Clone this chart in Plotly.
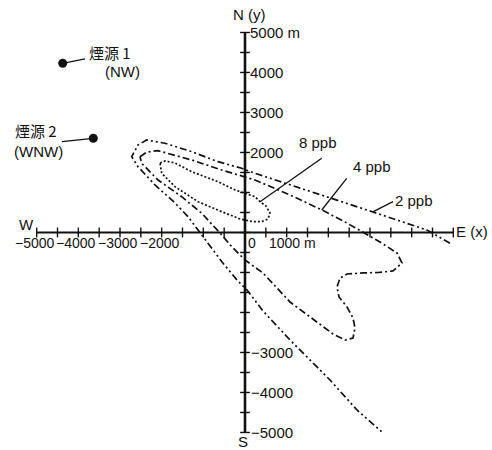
import plotly.graph_objects as go

# Concentration contours (metres, x = east, y = north)
ppb2_x = [4920, 4368, 3072, 1320, 240, -80, -648, -1279, -1920, -2359, -2568, -2719,
          -2568, -2160, -1680, -1368, -1128, -840, -552, -192, 48, 432, 1080, 1728,
          2040, 2688, 3288]
ppb2_y = [-270, 60, 512, 1100, 1480, 1605, 1770, 2020, 2230, 2312, 2188, 1895,
          1645, 1188, 738, 395, 62, -312, -738, -1188, -1438, -1962, -2688, -3362,
          -3688, -4438, -4988]

ppb4_x = [-2520, -2352, -2088, -1279, -559, 0, 240, 1080, 1848, 2400, 2832, 3240,
          3648, 3768, 3552, 3192, 2832, 2448, 2280, 2208, 2256, 2448, 2592, 2640,
          2592, 2400, 2112, 1728, 1080, 432, 0, -312, -600, -1039, -1519, -2088,
          -2479, -2520]
ppb4_y = [1895, 2012, 2045, 1812, 1562, 1388, 1312, 938, 562, 262, 12, -238,
          -512, -762, -962, -1000, -1012, -1038, -1138, -1362, -1612, -1862, -2138,
          -2388, -2638, -2688, -2538, -2238, -1738, -1012, -688, -362, -12, 480,
          895, 1312, 1730, 1895]

ppb8_x = [-2040, -1920, -1680, -1279, -648, -240, 240, 360, 504, 600, 552, 408,
          192, -120, -559, -1128, -1680, -1999, -2040]
ppb8_y = [1738, 1788, 1738, 1520, 1270, 1062, 895, 770, 662, 488, 338, 275,
          270, 338, 520, 770, 1145, 1480, 1738]

# Emission sources
source_names = ["煙源 1", "煙源 2"]
source_dirs = ["(NW)", "(WNW)"]
source_x = [-4375, -3641]
source_y = [4230, 2355]

# Axis ticks
tick_step = 500
axis_max = 5000
x_tick_labels = {-5000: "−5000", -4000: "−4000", -3000: "−3000", -2000: "−2000"}
y_tick_labels_pos = {5000: "5000 m", 4000: "4000", 3000: "3000", 2000: "2000"}
y_tick_labels_neg = {-3000: "−3000", -4000: "−4000", -5000: "−5000"}

ink = "#111111"
latin = "Liberation Sans, Arial, sans-serif"
cjk = "Noto Sans CJK JP, sans-serif"

fig = go.Figure()

# Axes drawn through the origin
fig.add_trace(go.Scatter(x=[-axis_max, axis_max], y=[0, 0], mode="lines",
                         line=dict(color=ink, width=2), hoverinfo="skip"))
fig.add_trace(go.Scatter(x=[0, 0], y=[-axis_max, axis_max], mode="lines",
                         line=dict(color=ink, width=2.6), hoverinfo="skip"))
ticks = list(range(-axis_max, axis_max + 1, tick_step))
fig.add_trace(go.Scatter(x=ticks, y=[0] * len(ticks), mode="markers",
                         marker=dict(symbol="line-ns", size=7,
                                     line=dict(color=ink, width=1.4)),
                         hoverinfo="skip"))
fig.add_trace(go.Scatter(x=[0] * len(ticks), y=ticks, mode="markers",
                         marker=dict(symbol="line-ew", size=7,
                                     line=dict(color=ink, width=1.4)),
                         hoverinfo="skip"))

# Contours
fig.add_trace(go.Scatter(x=ppb2_x, y=ppb2_y, mode="lines", name="2 ppb",
                         line=dict(color=ink, width=1.7,
                                   dash="7px,3px,2px,3px,2px,3px")))
fig.add_trace(go.Scatter(x=ppb4_x, y=ppb4_y, mode="lines", name="4 ppb",
                         line=dict(color=ink, width=1.7, dash="7px,3px,2px,3px")))
fig.add_trace(go.Scatter(x=ppb8_x, y=ppb8_y, mode="lines", name="8 ppb",
                         line=dict(color=ink, width=1.7, dash="2px,2px")))

# Contour label leaders
leaders = [
    ([360, 1841], [770, 1855]),
    ([1841, 2441], [562, 1355]),
    ([3079, 3552], [520, 770]),
]
for lx, ly in leaders:
    fig.add_trace(go.Scatter(x=lx, y=ly, mode="lines",
                             line=dict(color=ink, width=1.3), hoverinfo="skip"))

# Source markers and their leaders
fig.add_trace(go.Scatter(x=[source_x[0], -3840], y=[source_y[0], 4338], mode="lines",
                         line=dict(color=ink, width=1.3), hoverinfo="skip"))
fig.add_trace(go.Scatter(x=[source_x[1], -4392], y=[source_y[1], 2270], mode="lines",
                         line=dict(color=ink, width=1.3), hoverinfo="skip"))
fig.add_trace(go.Scatter(x=source_x, y=source_y, mode="markers",
                         marker=dict(color=ink, size=9), hoverinfo="skip"))

ann = []


def label(x, y, text, size=15, family=latin, xanchor="center", xshift=0, yshift=0):
    ann.append(dict(x=x, y=y, text=text, showarrow=False, xanchor=xanchor,
                    yanchor="middle", xshift=xshift, yshift=yshift,
                    font=dict(family=family, size=size, color=ink)))


for v, t in y_tick_labels_pos.items():
    label(0, v, t, xanchor="left", xshift=3)
for v, t in y_tick_labels_neg.items():
    label(0, v, t, xanchor="left", xshift=4)
for v, t in x_tick_labels.items():
    label(v, 0, t, size=14, xshift=-2, yshift=-11)
label(0, 0, "0", size=14, xanchor="left", xshift=1, yshift=-11)
label(1000, 0, "1000 m", size=14, xshift=6, yshift=-11)

label(0, axis_max, "N (y)", xshift=4, yshift=18)
label(0, -axis_max, "S", xshift=-2, yshift=-9)
label(-axis_max, 0, "W", xshift=-10, yshift=8)
label(axis_max, 0, "E (x)", xanchor="left", xshift=1, yshift=1)

label(1752, 2238, "8 ppb")
label(3048, 1662, "4 ppb")
label(4056, 812, "2 ppb")

label(-3792, 4462, source_names[0], size=15, family=cjk, xanchor="left", yshift=2)
label(-2952, 4062, source_dirs[0], yshift=-1)
label(-5568, 2488, source_names[1], size=15, family=cjk, xanchor="left", yshift=2)
label(-4968, 2062, source_dirs[1], yshift=-1)

fig.update_layout(
    width=492, height=450,
    margin=dict(l=0, r=0, t=0, b=0),
    showlegend=False,
    plot_bgcolor="white", paper_bgcolor="white",
    xaxis=dict(range=[-5880, 5928], visible=False, fixedrange=True),
    yaxis=dict(range=[-5438, 5812], visible=False, fixedrange=True),
    annotations=ann,
)

fig.write_html("out.html")
